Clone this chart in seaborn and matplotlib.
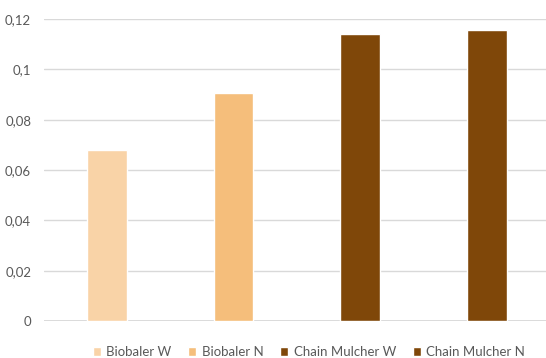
import matplotlib
matplotlib.use("Agg")
import matplotlib.pyplot as plt
from matplotlib.ticker import FuncFormatter, MultipleLocator
import seaborn as sns
import pandas as pd

categories = ["Biobaler W", "Biobaler N", "Chain Mulcher W", "Chain Mulcher N"]
values = [0.0679, 0.0906, 0.1141, 0.1156]
colors = ["#F9D3A7", "#F5BE7B", "#7F4709", "#7F4709"]

sns.set_theme(style="white")
plt.rcParams["font.family"] = ["Lato", "DejaVu Sans"]

df = pd.DataFrame({"machine": categories, "value": values})

fig = plt.figure(figsize=(5.46, 3.58), dpi=100)
ax = fig.add_axes([43.7 / 546, 37 / 358, (550 - 43.7) / 546, 302 / 358])

sns.barplot(data=df, x="machine", y="value", hue="machine",
            palette=colors, width=0.315, saturation=1, legend=True, ax=ax)

ax.set_ylim(0, 0.12)
ax.set_xlim(-0.5, 3.5)
ax.yaxis.set_major_locator(MultipleLocator(0.02))
ax.yaxis.set_major_formatter(FuncFormatter(
    lambda v, _: "0" if abs(v) < 1e-9 else f"{v:.2f}".rstrip("0").replace(".", ",")))
ax.grid(axis="y", color="#D9D9D9", linewidth=1)
ax.set_axisbelow(True)
for s in ax.spines.values():
    s.set_visible(False)
ax.axhline(0, color="#D9D9D9", linewidth=1.3, zorder=0.5)
ax.set_xlabel("")
ax.set_ylabel("")
ax.set_xticks([])
ax.tick_params(axis="y", length=0, pad=9, labelsize=9.5, labelcolor="#595959")

sns.move_legend(ax, "center", bbox_to_anchor=(309 / 546, 6 / 358),
                bbox_transform=fig.transFigure, ncol=4, frameon=False,
                fontsize=9.5, handlelength=0.6, handleheight=0.6,
                handletextpad=0.4, columnspacing=1.3, title=None)
for t in ax.get_legend().get_texts():
    t.set_color("#595959")

fig.savefig("out.png", dpi=100)
